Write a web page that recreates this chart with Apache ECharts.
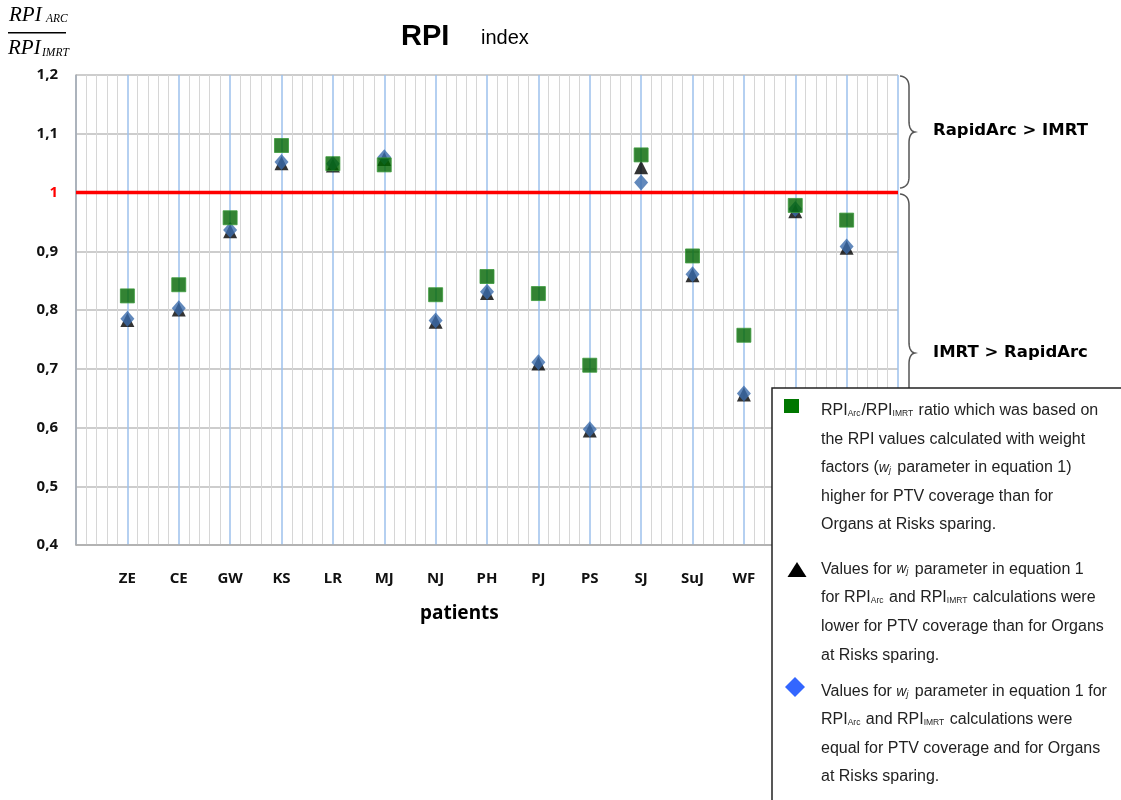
<!DOCTYPE html>
<html><head><meta charset="utf-8">
<script src="https://cdn.jsdelivr.net/npm/echarts@6/dist/echarts.min.js"></script>
<style>html,body{margin:0;padding:0;background:#fff}#c{width:1121px;height:800px}</style>
</head><body><div id="c"></div>
<script>
// ---- data ----
const patients = ['ZE','CE','GW','KS','LR','MJ','NJ','PH','PJ','PS','SJ','SuJ','WF','',''];
const ratioHigherPTV = [0.824,0.843,0.957,1.080,1.049,1.047,0.826,0.857,0.828,0.706,1.064,0.892,0.757,0.978,0.953];
const ratioLowerPTV  = [0.783,0.801,0.934,1.050,1.046,1.057,0.780,0.829,0.709,0.595,1.043,0.859,0.656,0.968,0.906];
const ratioEqual     = [0.785,0.803,0.936,1.052,1.049,1.060,0.782,0.831,0.711,0.597,1.017,0.861,0.658,0.972,0.908];
const referenceRatio = 1;
const yMin = 0.4, yMax = 1.2, yStep = 0.1;

const toPts = arr => arr.map((v, i) => [i + 1, v]);
const labelFont = '"Noto Sans", sans-serif';
const txtFont = '"Liberation Sans", Arial, sans-serif';
const annFont = '"DejaVu Sans", sans-serif';

// curly brace outline (decoration) as polyline points
function bracePoints(x0, y0, y1, w) {
  const ym = (y0 + y1) / 2, xm = x0 + w * 0.6, xt = x0 + w, r = 11;
  const pts = [];
  const quad = (p0, c, p1) => { for (let t = 0; t <= 1.0001; t += 0.1) {
    const a = (1 - t) * (1 - t), b = 2 * (1 - t) * t, d = t * t;
    pts.push([a * p0[0] + b * c[0] + d * p1[0], a * p0[1] + b * c[1] + d * p1[1]]); } };
  quad([x0, y0], [xm, y0 + 1], [xm, y0 + r]);
  quad([xm, ym - r], [xm, ym - 1], [xt, ym]);
  quad([xt, ym], [xm, ym + 1], [xm, ym + r]);
  quad([xm, y1 - r], [xm, y1 - 1], [x0, y1]);
  return pts;
}

const chart = echarts.init(document.getElementById('c'));

const legendLines = [
  [411, 'RPI{sb|Arc}/RPI{sb|IMRT} ratio which was based on'],
  [439.5, 'the RPI values calculated with weight'],
  [468, 'factors ({it|w}{sbi|j} parameter in equation 1)'],
  [496.5, 'higher for PTV coverage than for'],
  [525, 'Organs at Risks sparing.'],
  [569.5, 'Values for {it|w}{sbi|j} parameter in equation 1'],
  [598, 'for RPI{sb|Arc} and RPI{sb|IMRT} calculations were'],
  [627, 'lower for PTV coverage than for Organs'],
  [656, 'at Risks sparing.'],
  [692, 'Values for {it|w}{sbi|j} parameter in equation 1 for'],
  [720, 'RPI{sb|Arc} and RPI{sb|IMRT} calculations were'],
  [748.5, 'equal for PTV coverage and for Organs'],
  [777, 'at Risks sparing.']
];
const rich = {
  sb: {fontSize: 8.5, fontFamily: txtFont, fill: '#222', padding: [5, 1, 0, 0]},
  sbi: {fontSize: 8.5, fontStyle: 'italic', fontFamily: txtFont, fill: '#222', padding: [5, 2, 0, 0]},
  it: {fontSize: 14, fontStyle: 'italic', fontFamily: txtFont, fill: '#222'}
};

const graphics = [
  {type: 'text', x: 9, y: 5, style: {text: 'RPI', font: 'italic 21px "Liberation Serif", serif', fill: '#000'}},
  {type: 'text', x: 46, y: 13, style: {text: 'ARC', font: 'italic 11.5px "Liberation Serif", serif', fill: '#000'}},
  {type: 'rect', shape: {x: 8, y: 32, width: 58, height: 1.4}, style: {fill: '#000'}},
  {type: 'text', x: 8, y: 38, style: {text: 'RPI', font: 'italic 21px "Liberation Serif", serif', fill: '#000'}},
  {type: 'text', x: 42, y: 47, style: {text: 'IMRT', font: 'italic 11.5px "Liberation Serif", serif', fill: '#000'}},
  {type: 'text', x: 401, y: 22, style: {text: 'RPI', font: 'bold 29px "Liberation Sans", Arial, sans-serif', fill: '#000'}},
  {type: 'text', x: 481, y: 28, style: {text: 'index', font: '20px "Liberation Sans", Arial, sans-serif', fill: '#000'}},
  {type: 'text', x: 420, y: 604, style: {text: 'patients', font: 'bold 19px ' + labelFont, fill: '#000'}},
  {type: 'polyline', shape: {points: bracePoints(900, 76, 188, 15)}, style: {fill: null, stroke: '#555', lineWidth: 1.5}},
  {type: 'polyline', shape: {points: bracePoints(900, 194, 512, 15)}, style: {fill: null, stroke: '#555', lineWidth: 1.5}},
  {type: 'text', x: 933, y: 131, style: {text: 'RapidArc > IMRT', font: 'bold 16.5px ' + annFont, fill: '#000', verticalAlign: 'middle'}},
  {type: 'text', x: 933, y: 353, style: {text: 'IMRT > RapidArc', font: 'bold 16.5px ' + annFont, fill: '#000', verticalAlign: 'middle'}},
  {type: 'rect', z: 100, shape: {x: 772, y: 388, width: 400, height: 450}, style: {fill: '#fff', stroke: '#222', lineWidth: 1.5}},
  {type: 'rect', z: 101, shape: {x: 784, y: 399, width: 15, height: 14}, style: {fill: '#007700'}},
  {type: 'polygon', z: 101, shape: {points: [[797, 562], [806.5, 577], [787.5, 577]]}, style: {fill: '#000'}},
  {type: 'polygon', z: 101, shape: {points: [[795, 677], [805, 687], [795, 697], [785, 687]]}, style: {fill: '#3366ff'}}
];
legendLines.forEach(([y, t]) => {
  graphics.push({type: 'text', z: 101, x: 821, y: y,
    style: {text: t, rich: rich, font: '16px ' + txtFont, fill: '#222', verticalAlign: 'middle'}});
});

chart.setOption({
  animation: false,
  backgroundColor: '#fff',
  grid: {left: 76, right: 223, top: 75, bottom: 255},
  xAxis: {
    type: 'value', min: 0, max: patients.length + 1, interval: 1,
    axisLine: {show: true, lineStyle: {color: '#aaa', width: 1.5}},
    axisTick: {show: false},
    axisLabel: {
      margin: 26, fontFamily: labelFont, fontWeight: 'bold', fontSize: 15, color: '#111',
      formatter: v => patients[Math.round(v) - 1] || ''
    },
    splitLine: {show: true, lineStyle: {color: '#9dc0ec', width: 1.5}},
    minorTick: {show: false, splitNumber: 5},
    minorSplitLine: {show: true, lineStyle: {color: '#d6d6d6', width: 1}}
  },
  yAxis: {
    type: 'value', min: yMin, max: yMax, interval: yStep,
    axisLine: {show: true, lineStyle: {color: '#aaa', width: 1.5}},
    axisTick: {show: false},
    axisLabel: {
      margin: 18, fontFamily: labelFont, fontWeight: 'bold', fontSize: 15,
      color: v => Math.abs(v - referenceRatio) < 1e-6 ? '#ff0000' : '#111',
      formatter: v => String(Math.round(v * 10) / 10).replace('.', ',')
    },
    splitLine: {show: true, lineStyle: {color: '#bdbdbd', width: 1.5}}
  },
  series: [
    {type: 'line', data: [[0, referenceRatio], [patients.length + 1, referenceRatio]], symbol: 'none',
     lineStyle: {color: '#ff0000', width: 3.5}, z: 1, silent: true},
    {type: 'scatter', name: 'lower', data: toPts(ratioLowerPTV), symbol: 'triangle', symbolSize: 14,
     itemStyle: {color: '#000'}, z: 2},
    {type: 'scatter', name: 'equal', data: toPts(ratioEqual), symbol: 'diamond', symbolSize: [14, 16],
     itemStyle: {color: '#3b6cab'}, z: 3},
    {type: 'scatter', name: 'higher', data: toPts(ratioHigherPTV), symbol: 'rect', symbolSize: 14,
     itemStyle: {color: '#006400', borderColor: '#3c9a3c', borderWidth: 1}, z: 4}
  ],
  graphic: graphics
});
</script></body></html>
